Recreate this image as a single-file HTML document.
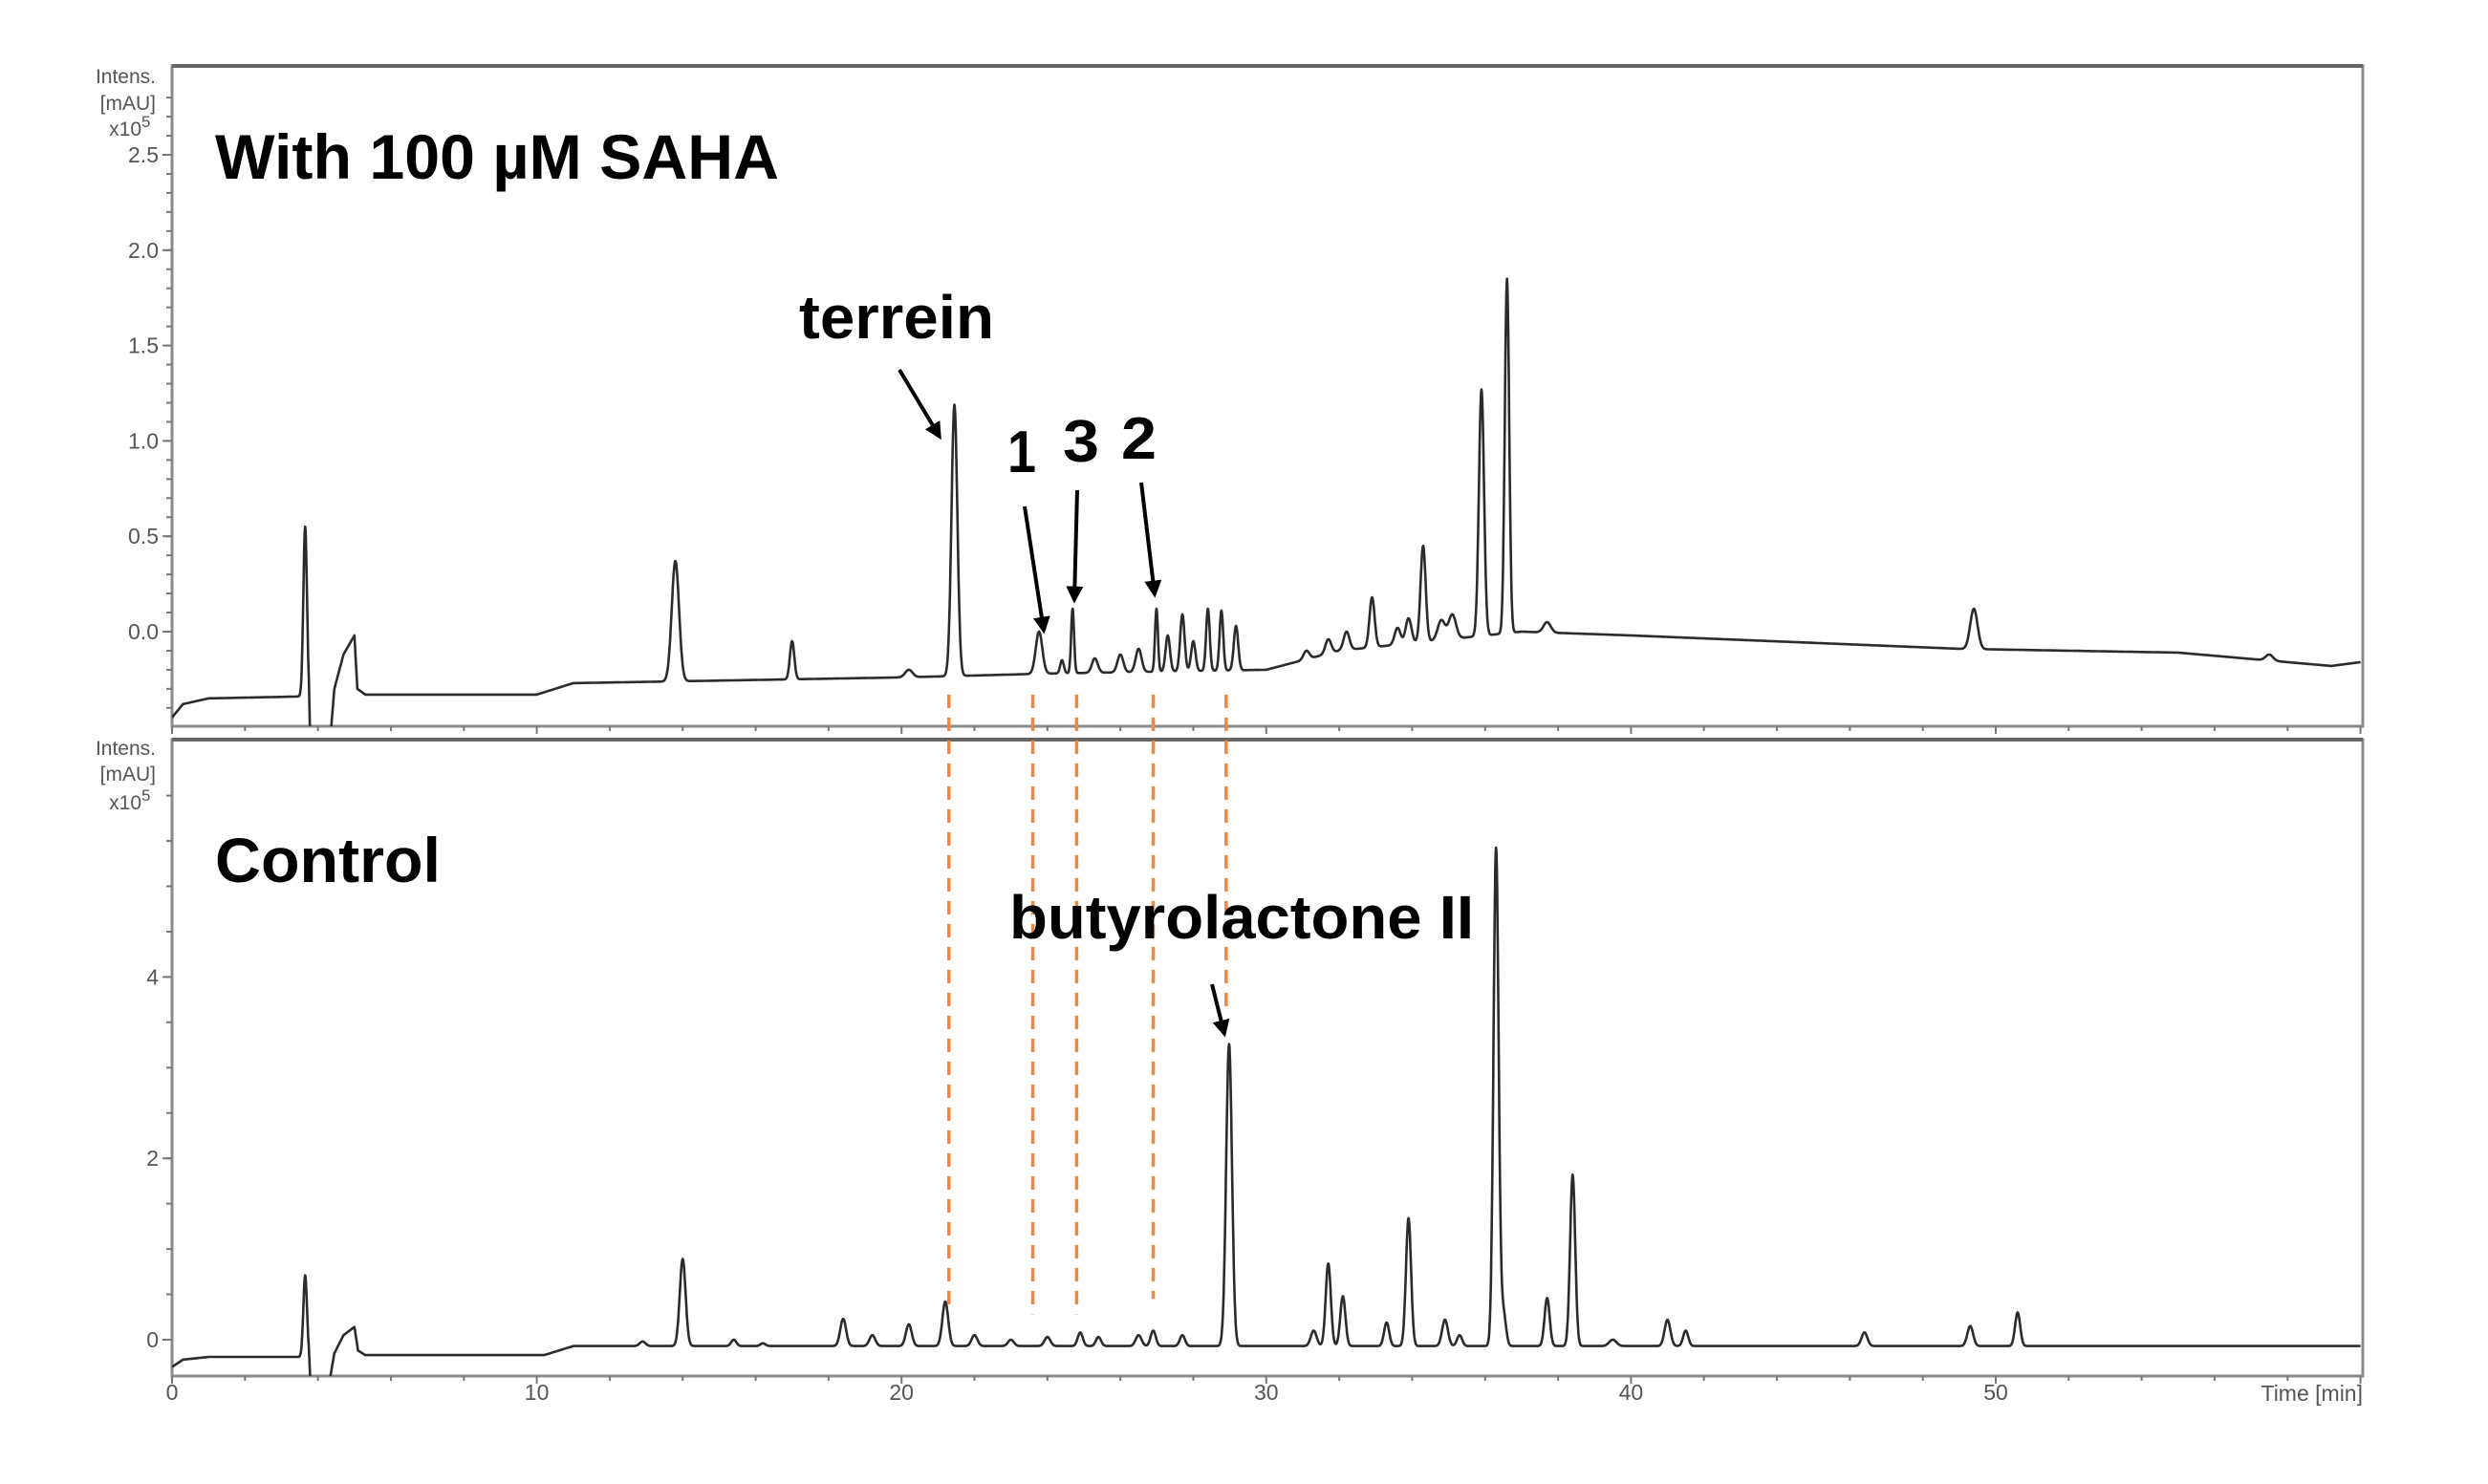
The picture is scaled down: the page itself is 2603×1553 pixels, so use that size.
<!DOCTYPE html>
<html><head><meta charset="utf-8">
<style>
html,body{margin:0;padding:0;background:#fff;}
svg{display:block;font-family:"Liberation Sans",Arial,sans-serif;}
</style></head>
<body>
<svg id="chart" width="2603" height="1553" viewBox="0 0 2603 1553" xmlns="http://www.w3.org/2000/svg">
<defs>
<clipPath id="clipTop"><rect x="180" y="69" width="2292" height="691"/></clipPath>
<clipPath id="clipBot"><rect x="180" y="774" width="2292" height="666"/></clipPath>
<marker id="ah" viewBox="0 0 10 10" refX="8" refY="5" markerWidth="4.5" markerHeight="4.5" orient="auto"><path d="M0,0 L10,5 L0,10 z" fill="#000"/></marker>
</defs>
<rect x="0" y="0" width="2603" height="1553" fill="#fff"/>
<g id="top-panel"></g>
<g id="bot-panel"></g>
<g id="annot"></g>
</svg>
<script>
// ---- data: time axis ----
const xTicksMajor = [0, 10, 20, 30, 40, 50];
const xTickLabels = ["0", "10", "20", "30", "40", "50"];
// ---- top panel (With 100 uM SAHA), units x10^5 mAU ----
const topYTicks = [0.0, 0.5, 1.0, 1.5, 2.0, 2.5];
const topYLabels = ["0.0", "0.5", "1.0", "1.5", "2.0", "2.5"];
const topBaseT = [0, 0.3, 1, 3.5, 3.75, 3.8, 4.3, 4.45, 4.7, 5.0, 5.08, 5.3, 10, 11, 20, 24, 30, 32, 35, 37, 40, 49, 55, 57.4, 59.2, 60];
const topBaseV = [-0.45, -0.38, -0.35, -0.34, -0.36, -0.65, -0.65, -0.3, -0.12, -0.02, -0.3, -0.33, -0.33, -0.27, -0.24, -0.22, -0.2, -0.1, -0.04, 0.0, -0.02, -0.09, -0.11, -0.15, -0.18, -0.16];
const topPeakT = [3.65, 13.8, 17.0, 20.2, 21.45, 23.77, 24.4, 24.69, 25.3, 26.0, 26.5, 26.99, 27.3, 27.7, 28.0, 28.4, 28.77, 29.17, 31.1, 31.7, 32.2, 32.9, 33.6, 33.9, 34.3, 34.8, 35.1, 35.9, 36.6, 37.7, 49.4, 57.5];
const topPeakV = [0.55, 0.37, -0.05, -0.2, 1.19, 0.0, -0.15, 0.12, -0.14, -0.12, -0.09, 0.12, -0.02, 0.09, -0.05, 0.12, 0.11, 0.03, -0.1, -0.04, 0.0, 0.18, 0.02, 0.07, 0.45, 0.06, 0.09, 1.27, 1.85, 0.05, 0.12, -0.12];
const topPeakW = [0.05, 0.1, 0.06, 0.1, 0.08, 0.09, 0.05, 0.04, 0.08, 0.08, 0.08, 0.04, 0.06, 0.06, 0.06, 0.05, 0.05, 0.06, 0.08, 0.08, 0.08, 0.07, 0.08, 0.08, 0.07, 0.1, 0.1, 0.07, 0.06, 0.1, 0.1, 0.1];
// ---- bottom panel (Control) ----
const botYTicks = [0, 2, 4];
const botYLabels = ["0", "2", "4"];
const botBaseT = [0, 0.3, 1, 3.5, 3.75, 3.8, 4.3, 4.45, 4.7, 5.0, 5.1, 5.3, 10.2, 11, 60];
const botBaseV = [-0.3, -0.22, -0.19, -0.19, -0.2, -0.5, -0.5, -0.15, 0.05, 0.14, -0.12, -0.17, -0.17, -0.07, -0.07];
const botPeakT = [3.65, 12.9, 14.0, 15.4, 16.2, 18.4, 19.2, 20.2, 21.2, 22.0, 23.0, 24.0, 24.9, 25.4, 26.5, 26.9, 27.7, 28.98, 31.3, 31.7, 32.1, 33.3, 33.9, 34.9, 35.3, 36.3, 36.5, 37.7, 38.4, 39.5, 41.0, 41.5, 46.4, 49.3, 50.6];
const botPeakV = [0.71, -0.02, 0.89, 0.0, -0.04, 0.23, 0.05, 0.17, 0.42, 0.05, 0.0, 0.03, 0.08, 0.03, 0.05, 0.1, 0.05, 3.26, 0.1, 0.84, 0.48, 0.19, 1.34, 0.22, 0.05, 5.42, 0.3, 0.46, 1.82, 0.0, 0.22, 0.1, 0.08, 0.15, 0.3];
const botPeakW = [0.05, 0.08, 0.08, 0.07, 0.07, 0.08, 0.08, 0.08, 0.08, 0.08, 0.08, 0.08, 0.07, 0.07, 0.08, 0.07, 0.07, 0.08, 0.08, 0.07, 0.07, 0.07, 0.07, 0.08, 0.07, 0.07, 0.07, 0.07, 0.07, 0.1, 0.08, 0.07, 0.08, 0.08, 0.07];
// ---- marker lines (retention times of compared peaks) ----
const markerT = [21.3, 23.6, 24.8, 26.9, 28.9];
const markerEndV = [0.35, 0.28, 0.28, 0.45, 3.6];

const NS = "http://www.w3.org/2000/svg";
const X0 = 180, PXMIN = 38.16;
function xs(t){ return X0 + t * PXMIN; }
function yTop(v){ return 661 - v * 199.6; }
function yBot(v){ return 1402 - v * 94.9; }
function mk(tag, attrs, parent){
  const e = document.createElementNS(NS, tag);
  for (const k in attrs) e.setAttribute(k, attrs[k]);
  parent.appendChild(e); return e;
}
function interp(T, V, t){
  if (t <= T[0]) return V[0];
  for (let i = 1; i < T.length; i++) if (t <= T[i]) {
    const f = (t - T[i-1]) / (T[i] - T[i-1]); return V[i-1] + f * (V[i] - V[i-1]);
  }
  return V[V.length-1];
}
function trace(bT, bV, pT, pV, pW, yf){
  let d = "";
  for (let t = 0; t <= 60.0001; t += 0.01) {
    let v = interp(bT, bV, t);
    for (let i = 0; i < pT.length; i++) {
      const z = (t - pT[i]) / pW[i];
      if (Math.abs(z) < 6) v += (pV[i] - interp(bT, bV, pT[i])) * Math.exp(-0.5 * z * z);
    }
    d += (d ? "L" : "M") + xs(t).toFixed(1) + "," + yf(v).toFixed(1);
  }
  return d;
}
function panel(g, top, bottom, yf, yT, yL, minorFrom, minorTo, minorStep, clip, bT, bV, pT, pV, pW, labelYs, showX){
  const frame = mk("rect", {x: X0, y: top, width: 2472 - X0, height: bottom - top, fill: "none", stroke: "#8a8a8a", "stroke-width": 3}, g);
  
  
  mk("line", {x1: X0, y1: top, x2: 2472, y2: top, stroke: "#666", "stroke-width": 4}, g);
  // y minor ticks
  for (let v = minorFrom; v <= minorTo + 1e-6; v += minorStep) {
    const y = yf(v); if (y < top || y > bottom) continue;
    mk("line", {x1: X0 - 6, y1: y, x2: X0, y2: y, stroke: "#777", "stroke-width": 2}, g);
  }
  for (let i = 0; i < yT.length; i++) {
    const y = yf(yT[i]);
    mk("line", {x1: X0 - 10, y1: y, x2: X0, y2: y, stroke: "#777", "stroke-width": 2}, g);
    const tx = mk("text", {x: X0 - 14, y: y + 8, "font-size": 23, fill: "#555", "text-anchor": "end"}, g);
    tx.textContent = yL[i];
    
    
  }
  // y axis title
  const titles = ["Intens.", "[mAU]", "x10"];
  for (let i = 0; i < 3; i++) {
    const tt = mk("text", {x: i === 2 ? 148 : 163, y: labelYs[i], "font-size": 21, fill: "#555", "text-anchor": "end"}, g);
    tt.textContent = titles[i];
    
    
  }
  const sup = mk("text", {x: 148, y: labelYs[2] - 9, "font-size": 17, fill: "#555"}, g);
  sup.textContent = "5";
  
  
  // x ticks
  for (let t = 0; t <= 60; t += 2) {
    mk("line", {x1: xs(t), y1: bottom, x2: xs(t), y2: bottom + (t % 10 === 0 ? 8 : 5), stroke: "#777", "stroke-width": 2}, g);
  }
  if (showX) {
    for (let i = 0; i < xTicksMajor.length; i++) {
      const tx = mk("text", {x: xs(xTicksMajor[i]), y: bottom + 25, "font-size": 23, fill: "#555", "text-anchor": "middle"}, g);
      tx.textContent = xTickLabels[i];
      
      
    }
    const xt = mk("text", {x: 2472, y: bottom + 26, "font-size": 23, fill: "#555", "text-anchor": "end"}, g);
    xt.textContent = "Time [min]";
    
    
  }
  const p = mk("path", {d: trace(bT, bV, pT, pV, pW, yf), fill: "none", stroke: "#2b2b2b", "stroke-width": 2.6, "stroke-linejoin": "round", "clip-path": "url(#" + clip + ")"}, g);
  
  
}
const gT = document.getElementById("top-panel");
const gB = document.getElementById("bot-panel");
panel(gT, 69, 760, yTop, topYTicks, topYLabels, -0.4, 2.8, 0.1, "clipTop", topBaseT, topBaseV, topPeakT, topPeakV, topPeakW, [87, 115, 142], false);
panel(gB, 774, 1440, yBot, botYTicks, botYLabels, -0.5, 6, 0.5, "clipBot", botBaseT, botBaseV, botPeakT, botPeakV, botPeakW, [790, 817, 847], true);

// annotations
const gA = document.getElementById("annot");
for (let i = 0; i < markerT.length; i++) {
  const l = mk("line", {x1: xs(markerT[i]), y1: 727, x2: xs(markerT[i]), y2: yBot(markerEndV[i]), stroke: "#f2863a", "stroke-width": 3.5, "stroke-dasharray": "14 10"}, gA);
  
  
}
function label(txt, x, y, size, name, len){
  const t = mk("text", {x: x, y: y, "font-size": size, "font-weight": "bold", fill: "#000"}, gA);
  if (len) { t.setAttribute("textLength", len); t.setAttribute("lengthAdjust", "spacingAndGlyphs"); }
  t.textContent = txt;
  
  
}
label("With 100 µM SAHA", 225, 187, 66, "saha-panel-title", 590);
label("Control", 225, 923, 66, "control-panel-title", 236);
label("terrein", 836, 354, 64, "terrein-label", 204);
label("1", 1054, 494, 62, "compound-1-label", 30);
label("3", 1112, 483, 62, "compound-3-label", 38);
label("2", 1173, 480, 62, "compound-2-label", 37);
label("butyrolactone II", 1056, 982, 64, "butyrolactone-label", 486);
function arrow(x1, y1, x2, y2, name){
  const a = mk("line", {x1: x1, y1: y1, x2: x2, y2: y2, stroke: "#000", "stroke-width": 4, "marker-end": "url(#ah)"}, gA);
  
  
}
arrow(941, 387, 983, 457, "terrein-arrow");
arrow(1072, 530, 1092, 660, "compound-1-arrow");
arrow(1127, 513, 1124, 628, "compound-3-arrow");
arrow(1194, 505, 1208, 622, "compound-2-arrow");
arrow(1268, 1030, 1281, 1082, "butyrolactone-arrow");
</script>
</body></html>
